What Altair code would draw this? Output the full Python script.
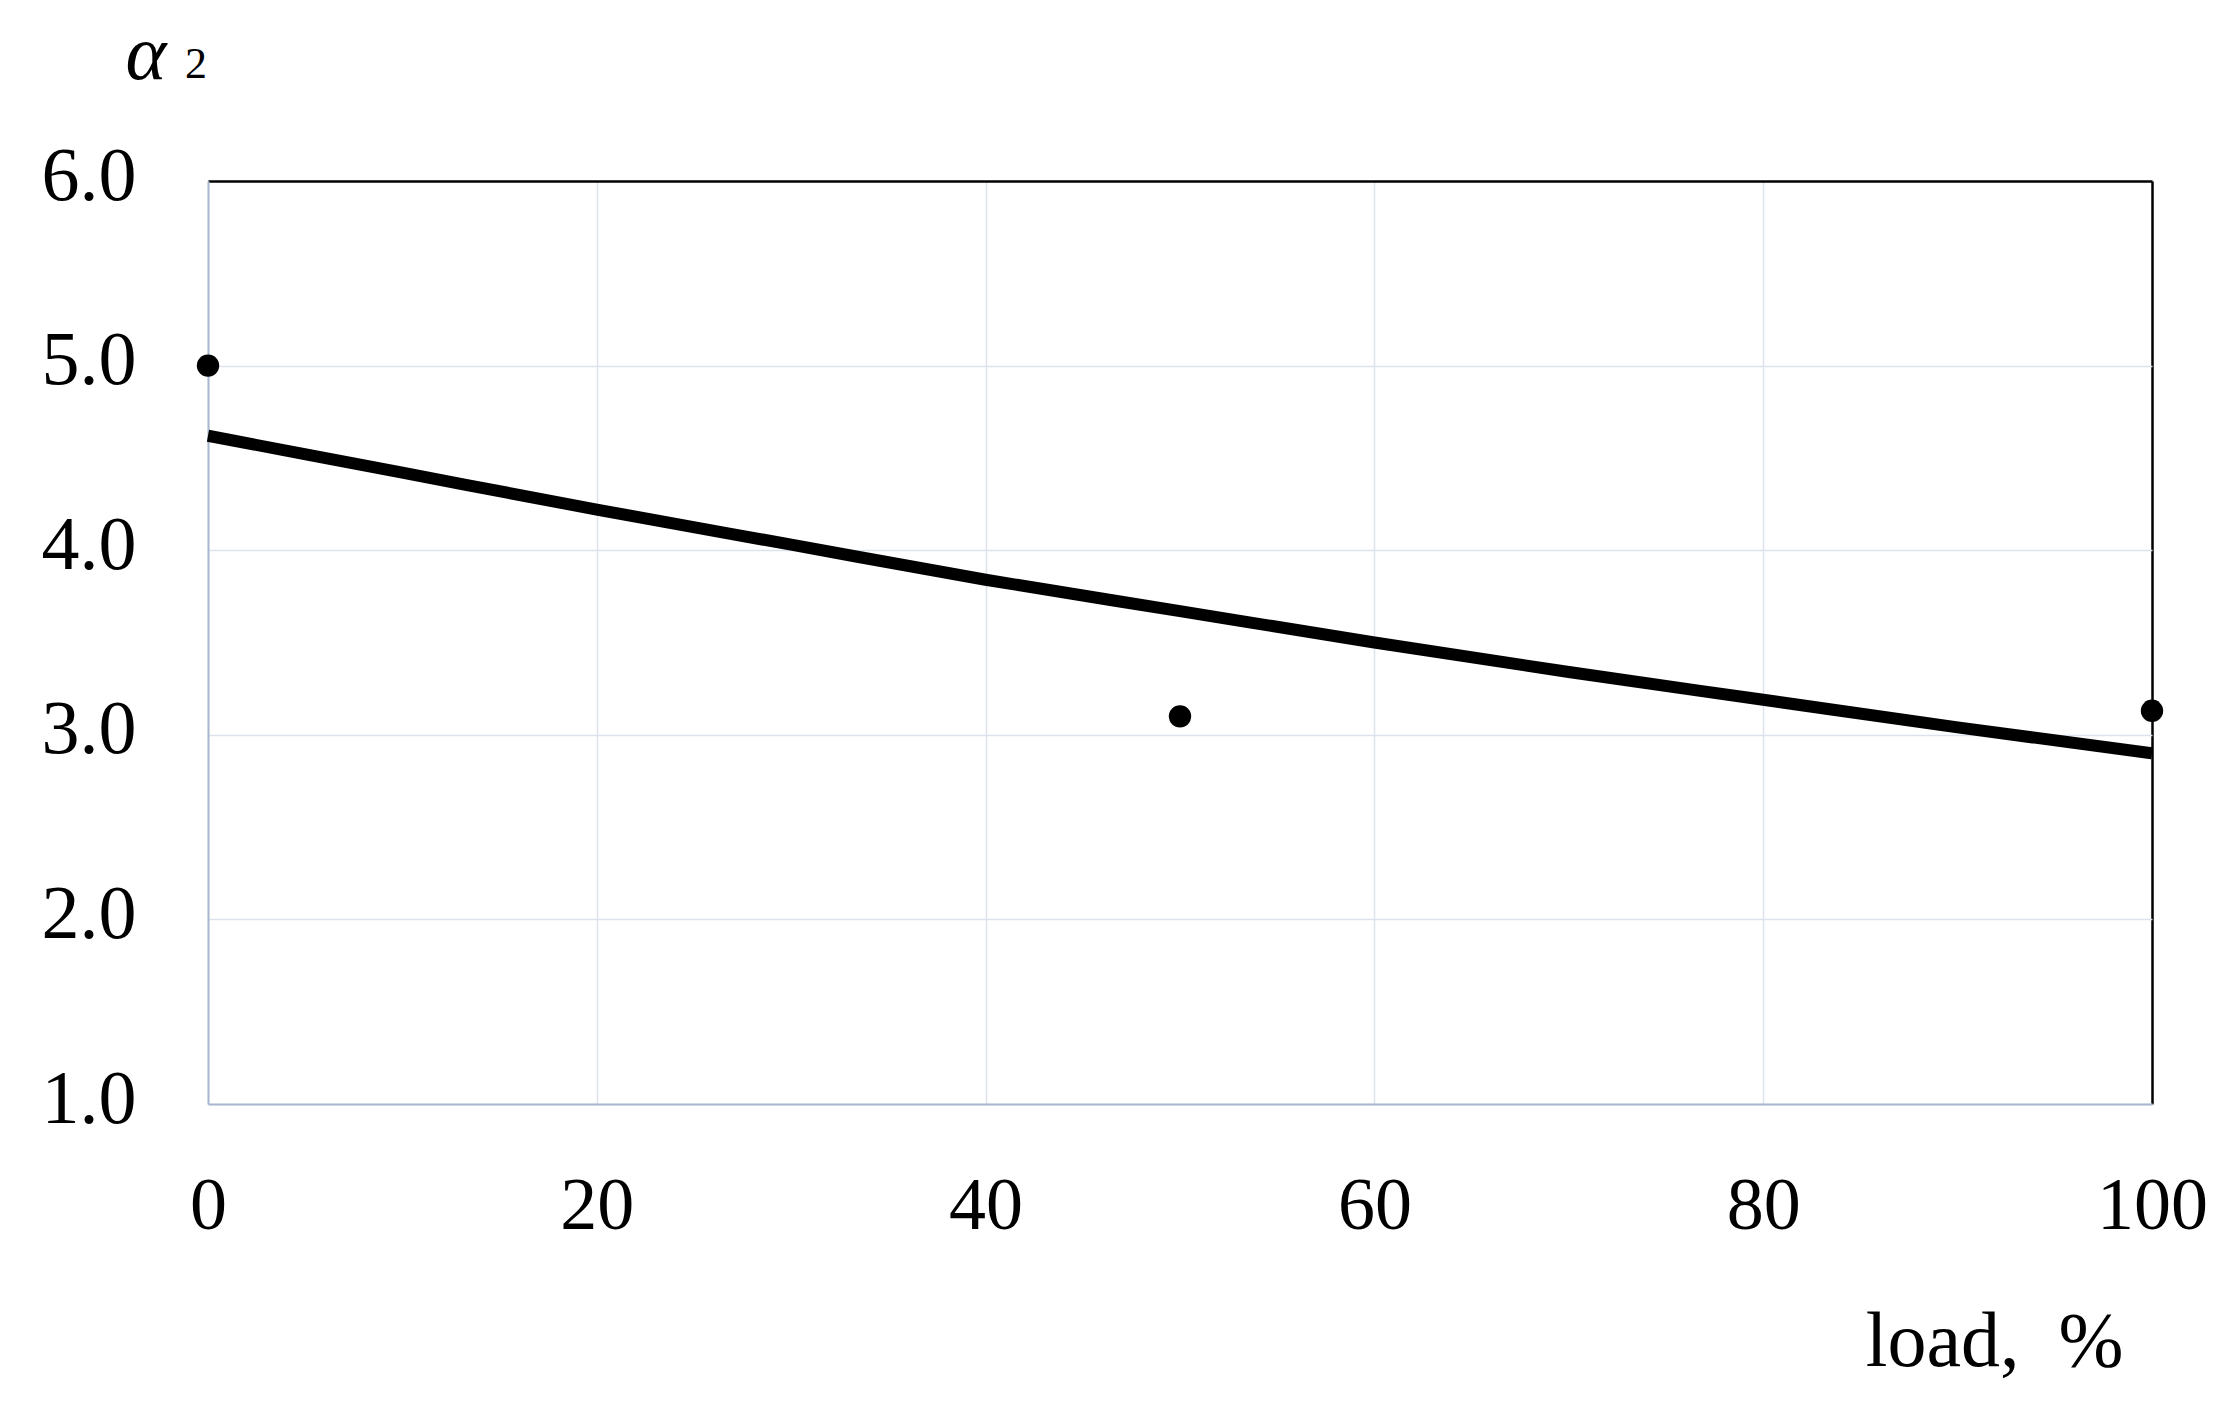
import altair as alt
import pandas as pd

# measured points
point_load = [0, 50, 100]
point_alpha = [5.0, 3.10, 3.13]

# fitted curve
curve_load = [0, 10, 20, 30, 40, 50, 60, 70, 80, 90, 100]
curve_alpha = [4.62, 4.42, 4.22, 4.03, 3.84, 3.67, 3.50, 3.34, 3.19, 3.04, 2.90]

x_ticks = [0, 20, 40, 60, 80, 100]
y_ticks = [1.0, 2.0, 3.0, 4.0, 5.0, 6.0]

pts = pd.DataFrame({"load": point_load, "alpha": point_alpha})
crv = pd.DataFrame({"load": curve_load, "alpha": curve_alpha})

FONT = "Liberation Serif"
AXIS_COL = "#a9b8cf"
GRID_COL = "#dde3ec"

xscale = alt.Scale(domain=[0, 100], nice=False)
yscale = alt.Scale(domain=[1, 6], nice=False, zero=False)

xaxis = alt.Axis(
    values=x_ticks, format="d", grid=True,
    gridColor=alt.condition("datum.value == 100", alt.value("#000000"), alt.value(GRID_COL)),
    gridWidth=alt.condition("datum.value == 100", alt.value(2.5), alt.value(1.5)),
    ticks=False, domainColor=AXIS_COL, domainWidth=2,
    labelFont=FONT, labelFontSize=74, labelColor="#000000", labelPadding=66,
    labelBaseline="top", labelFlush=False, labelOverlap=False,
    title="load,\u00a0\u00a0%", titleFont=FONT, titleFontSize=78, titleFontWeight="normal",
    titleColor="#000000", titleAlign="right", titleAnchor="end",
    titleX=1915, titleY=261, titleBaseline="alphabetic",
)
yaxis = alt.Axis(
    values=y_ticks, format=".1f", grid=True,
    gridColor=alt.condition("datum.value == 6", alt.value("#000000"), alt.value(GRID_COL)),
    gridWidth=alt.condition("datum.value == 6", alt.value(2.5), alt.value(1.5)),
    ticks=False, domainColor=AXIS_COL, domainWidth=2,
    labelFont=FONT, labelFontSize=76, labelColor="#000000", labelPadding=72,
    labelBaseline="middle", labelOffset=-5, labelFlush=False, labelOverlap=False,
    title="α", titleFont=FONT, titleFontSize=78, titleFontStyle="italic",
    titleFontWeight="normal", titleColor="#000000", titleAngle=0,
    titleAlign="left", titleX=-83, titleY=-103, titleBaseline="alphabetic",
)

line = alt.Chart(crv).mark_line(
    color="#000000", strokeWidth=12, interpolate="monotone", clip=False
).encode(
    x=alt.X("load:Q", scale=xscale, axis=xaxis),
    y=alt.Y("alpha:Q", scale=yscale, axis=yaxis),
)

dots = alt.Chart(pts).mark_circle(
    color="#000000", size=500, opacity=1, clip=False
).encode(
    x=alt.X("load:Q", scale=xscale),
    y=alt.Y("alpha:Q", scale=yscale),
)

sub2 = alt.Chart(pd.DataFrame({"t": ["2"]})).mark_text(
    font=FONT, fontSize=44, color="#000000", align="left", baseline="alphabetic"
).encode(
    text="t:N", x=alt.value(-23), y=alt.value(-103)
)

chart = alt.layer(line, dots, sub2).properties(
    width=1944, height=923,
    autosize=alt.AutoSizeParams(type="none"),
    padding={"left": 200, "top": 173, "right": 76, "bottom": 300},
).configure_view(
    stroke=None
).configure(
    background="#ffffff"
)

chart.save("out.html", embed_options={"renderer": "svg", "actions": False})
